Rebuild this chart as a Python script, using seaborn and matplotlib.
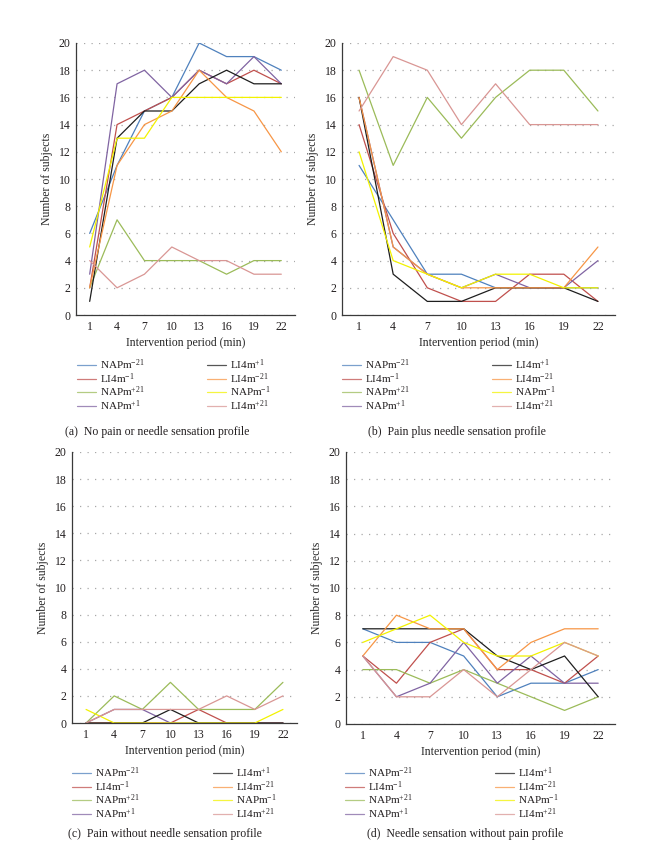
import matplotlib
matplotlib.use("Agg")
import matplotlib.pyplot as plt
import seaborn as sns
import pandas as pd
from matplotlib.lines import Line2D

# ---------------- data ----------------
minutes = [1, 4, 7, 10, 13, 16, 19, 22]
series = ["NAPm$^{-21}$", "LI4m$^{-1}$", "NAPm$^{+21}$", "NAPm$^{+1}$",
          "LI4m$^{+1}$", "LI4m$^{-21}$", "NAPm$^{-1}$", "LI4m$^{+21}$"]
colors = ["#4F81BD", "#C0504D", "#9BBB59", "#8064A2",
          "#1E1E1E", "#F79646", "#F2F200", "#D99694"]

# (a) No pain or needle sensation profile
a_napm_m21 = [6, 11, 15, 16, 20, 19, 19, 18]
a_li4m_m1 = [2, 14, 15, 16, 18, 17, 18, 17]
a_napm_p21 = [2, 7, 4, 4, 4, 3, 4, 4]
a_napm_p1 = [3, 17, 18, 16, 18, 17, 19, 17]
a_li4m_p1 = [1, 13, 15, 15, 17, 18, 17, 17]
a_li4m_m21 = [2, 11, 14, 15, 18, 16, 15, 12]
a_napm_m1 = [5, 13, 13, 16, 16, 16, 16, 16]
a_li4m_p21 = [4, 2, 3, 5, 4, 4, 3, 3]

# (b) Pain plus needle sensation profile
b_napm_m21 = [11, 7, 3, 3, 2, 2, 2, 2]
b_li4m_m1 = [14, 6, 2, 1, 1, 3, 3, 1]
b_napm_p21 = [18, 11, 16, 13, 16, 18, 18, 15]
b_napm_p1 = [16, 5, 3, 2, 3, 2, 2, 4]
b_li4m_p1 = [16, 3, 1, 1, 2, 2, 2, 1]
b_li4m_m21 = [16, 5, 3, 2, 2, 2, 2, 5]
b_napm_m1 = [12, 4, 3, 2, 3, 3, 2, 2]
b_li4m_p21 = [15, 19, 18, 14, 17, 14, 14, 14]

# (c) Pain without needle sensation profile
c_napm_m21 = [0, 0, 0, 0, 0, 0, 0, 0]
c_li4m_m1 = [0, 0, 0, 0, 1, 0, 0, 0]
c_napm_p21 = [0, 2, 1, 3, 1, 1, 1, 3]
c_napm_p1 = [0, 1, 1, 0, 0, 0, 0, 0]
c_li4m_p1 = [0, 0, 0, 1, 0, 0, 0, 0]
c_li4m_m21 = [0, 0, 0, 0, 0, 0, 0, 0]
c_napm_m1 = [1, 0, 0, 0, 0, 0, 0, 1]
c_li4m_p21 = [0, 1, 1, 1, 1, 2, 1, 2]

# (d) Needle sensation without pain profile
d_napm_m21 = [7, 6, 6, 5, 2, 3, 3, 4]
d_li4m_m1 = [5, 3, 6, 7, 4, 4, 3, 5]
d_napm_p21 = [4, 4, 3, 4, 3, 2, 1, 2]
d_napm_p1 = [5, 2, 3, 6, 3, 5, 3, 3]
d_li4m_p1 = [7, 7, 7, 7, 5, 4, 5, 2]
d_li4m_m21 = [5, 8, 7, 7, 4, 6, 7, 7]
d_napm_m1 = [6, 7, 8, 6, 5, 5, 6, 5]
d_li4m_p21 = [5, 2, 2, 4, 2, 4, 6, 5]

captions = ["(a)  No pain or needle sensation profile",
            "(b)  Pain plus needle sensation profile",
            "(c)  Pain without needle sensation profile",
            "(d)  Needle sensation without pain profile"]

panels = [
    [a_napm_m21, a_li4m_m1, a_napm_p21, a_napm_p1, a_li4m_p1, a_li4m_m21, a_napm_m1, a_li4m_p21],
    [b_napm_m21, b_li4m_m1, b_napm_p21, b_napm_p1, b_li4m_p1, b_li4m_m21, b_napm_m1, b_li4m_p21],
    [c_napm_m21, c_li4m_m1, c_napm_p21, c_napm_p1, c_li4m_p1, c_li4m_m21, c_napm_m1, c_li4m_p21],
    [d_napm_m21, d_li4m_m1, d_napm_p21, d_napm_p1, d_li4m_p1, d_li4m_m21, d_napm_m1, d_li4m_p21],
]

# ---------------- style ----------------
sns.set_theme(style="white")
plt.rcParams["font.family"] = ["Liberation Serif", "DejaVu Serif"]
plt.rcParams["mathtext.fontset"] = "custom"
plt.rcParams["mathtext.rm"] = "Liberation Serif"
plt.rcParams["mathtext.it"] = "Liberation Serif:italic"
plt.rcParams["mathtext.bf"] = "Liberation Serif:bold"
plt.rcParams["text.color"] = "#231F20"

W, H = 670, 849
fig = plt.figure(figsize=(W / 100, H / 100), dpi=100)
fig.patch.set_facecolor("white")

# axes boxes in pixels: left, right, top, bottom
boxes = [(76, 295, 43, 315), (342, 615, 43, 315),
         (72, 297, 452, 723), (346, 615, 452, 724)]
# legend positions (px): col1 handle x, col2 handle x, top y
legpos = [(77, 207, 357), (342, 492, 357), (72, 213, 765), (345, 495, 765)]
capx = [157, 457, 165, 465]
capy = [432, 432, 834, 834]

for i, vals in enumerate(panels):
    l, r, t, b = boxes[i]
    ax = fig.add_axes([l / W, 1 - b / H, (r - l) / W, (b - t) / H])
    df = pd.DataFrame({
        "minute": minutes * len(series),
        "series": [s for s in series for _ in minutes],
        "value": [v for row in vals for v in row],
    })
    sns.lineplot(data=df, x="minute", y="value", hue="series",
                 hue_order=series, palette=colors, ax=ax,
                 legend=False, linewidth=0.9)
    ax.set_xlim(-0.5, 23.5)
    ax.set_ylim(0, 20)
    ax.set_xticks(minutes)
    ax.set_yticks(range(0, 21, 2))
    ax.yaxis.grid(True, linestyle=(0, (1, 5)), color="#A8A8A8", linewidth=0.9)
    ax.xaxis.grid(False)
    ax.set_axisbelow(True)
    for s in ["top", "right"]:
        ax.spines[s].set_visible(False)
    for s in ["left", "bottom"]:
        ax.spines[s].set_color("#3A3A3A")
        ax.spines[s].set_linewidth(0.9)
    ax.tick_params(length=0, labelsize=8.5, pad=4, colors="#231F20")
    ax.set_xlabel("Intervention period (min)", fontsize=8.5, labelpad=3)
    ax.set_ylabel("Number of subjects", fontsize=8.5, labelpad=4)

    handles = [Line2D([0], [0], color=c, lw=0.9, alpha=0.75) for c in colors]
    x1, x2, ty = legpos[i]
    leg_kw = dict(loc="upper left", bbox_transform=fig.transFigure,
                  frameon=False, fontsize=8, borderpad=0, borderaxespad=0,
                  handlelength=1.7, handletextpad=0.4, labelspacing=-0.06)
    leg1 = ax.legend(handles[:4], series[:4],
                     bbox_to_anchor=(x1 / W, 1 - ty / H), **leg_kw)
    ax.add_artist(leg1)
    ax.legend(handles[4:], series[4:],
              bbox_to_anchor=(x2 / W, 1 - ty / H), **leg_kw)
    fig.text(capx[i] / W, 1 - capy[i] / H, captions[i],
             ha="center", va="center", fontsize=8.5)

fig.savefig("out.png", dpi=100, facecolor="white")
